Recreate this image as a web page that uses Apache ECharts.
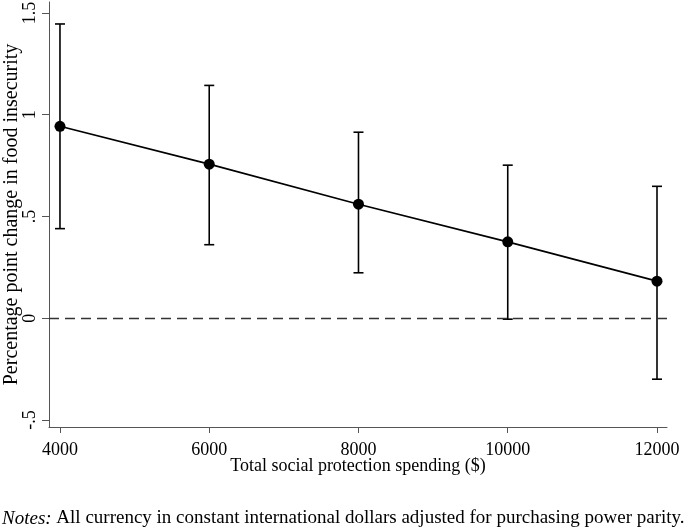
<!DOCTYPE html>
<html><head><meta charset="utf-8">
<script src="https://cdn.jsdelivr.net/npm/echarts@6/dist/echarts.min.js"></script>
<style>html,body{margin:0;padding:0;background:#fff}#c{width:689px;height:532px}</style>
</head><body><div id="c"></div>
<script>
const spending = [4000, 6000, 8000, 10000, 12000];
const estimate = [0.943, 0.757, 0.560, 0.375, 0.182];
const lower = [0.440, 0.361, 0.223, -0.005, -0.300];
const upper = [1.446, 1.144, 0.914, 0.752, 0.648];
const xTicks = [4000, 6000, 8000, 10000, 12000];
const yTicks = [-0.5, 0, 0.5, 1, 1.5];
const yTickLabels = {'-0.5': '-.5', '0': '0', '0.5': '.5', '1': '1', '1.5': '1.5'};

const font = 'Liberation Serif';
const chart = echarts.init(document.getElementById('c'), null, {renderer: 'canvas'});
chart.setOption({
  animation: false,
  backgroundColor: '#fff',
  textStyle: {fontFamily: font},
  title: {
    left: 2, top: 509, padding: 0,
    text: '{i|Notes:} All currency in constant international dollars adjusted for purchasing power parity.',
    textStyle: {
      fontFamily: font, fontSize: 19, fontWeight: 'normal', color: '#000',
      rich: {i: {fontFamily: font, fontSize: 19, fontStyle: 'italic', color: '#000'}}
    }
  },
  grid: {left: 49, right: 22, top: 2, bottom: 105, containLabel: false, outerBoundsMode: 'none'},
  xAxis: {
    type: 'value', min: 3853, max: 12134,
    name: 'Total social protection spending ($)', nameLocation: 'middle', nameGap: 30,
    nameMoveOverlap: false,
    nameTextStyle: {fontFamily: font, fontSize: 18, color: '#000'},
    axisLine: {show: true, onZero: false, lineStyle: {color: '#555', width: 1}},
    axisTick: {show: true, customValues: xTicks, length: 6, lineStyle: {color: '#555'}},
    axisLabel: {customValues: xTicks, fontFamily: font, fontSize: 18, color: '#000', margin: 14,
      formatter: v => String(v)},
    splitLine: {show: false}
  },
  yAxis: {
    type: 'value', min: -0.535, max: 1.554,
    name: 'Percentage point change in food insecurity', nameLocation: 'middle', nameGap: 27,
    nameMoveOverlap: false,
    nameTextStyle: {fontFamily: font, fontSize: 20, color: '#000'},
    axisLine: {show: true, onZero: false, lineStyle: {color: '#555', width: 1}},
    axisTick: {show: true, customValues: yTicks, length: 7, lineStyle: {color: '#555'}},
    axisLabel: {customValues: yTicks, rotate: 90, fontFamily: font, fontSize: 18, color: '#000', margin: 10,
      formatter: v => yTickLabels[String(v)] !== undefined ? yTickLabels[String(v)] : String(v)},
    splitLine: {show: false}
  },
  series: [
    {
      type: 'custom',
      data: spending.map((x, i) => [x, lower[i], upper[i]]),
      renderItem: function (params, api) {
        const lo = api.coord([api.value(0), api.value(1)]);
        const hi = api.coord([api.value(0), api.value(2)]);
        const w = 5;
        const st = {stroke: '#000', lineWidth: 1.6, fill: null};
        return {type: 'group', children: [
          {type: 'line', shape: {x1: lo[0], y1: lo[1], x2: hi[0], y2: hi[1]}, style: st},
          {type: 'line', shape: {x1: lo[0]-w, y1: lo[1], x2: lo[0]+w, y2: lo[1]}, style: st},
          {type: 'line', shape: {x1: hi[0]-w, y1: hi[1], x2: hi[0]+w, y2: hi[1]}, style: st}
        ]};
      },
      z: 2
    },
    {
      type: 'line',
      data: spending.map((x, i) => [x, estimate[i]]),
      symbol: 'circle', symbolSize: 11,
      lineStyle: {color: '#000', width: 1.6},
      itemStyle: {color: '#000'},
      z: 3,
      markLine: {
        silent: true, symbol: 'none', label: {show: false},
        lineStyle: {color: '#333', type: [10, 6], width: 1.3},
        data: [{yAxis: 0}]
      }
    }
  ]
});
</script></body></html>
